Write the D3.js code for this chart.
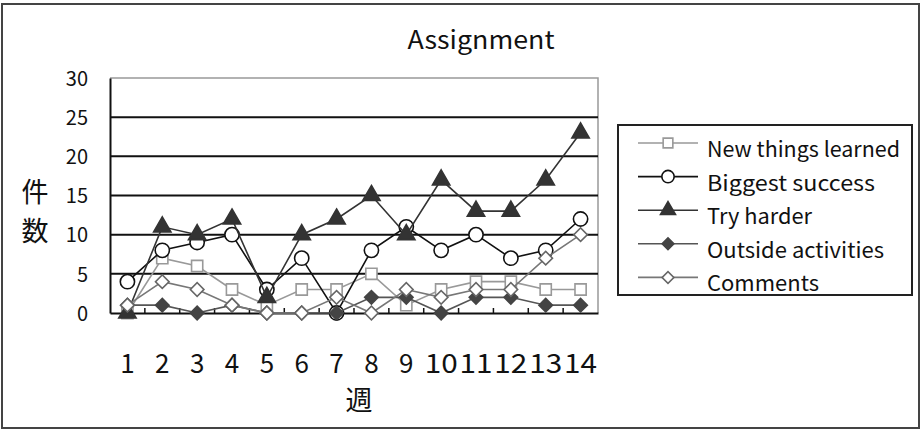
<html>
<meta charset="utf-8">
<script src="https://d3js.org/d3.v7.min.js"></script>
<style>
  body { margin: 0; background: #fff; }
  text { font-family: "Noto Sans CJK JP", "DejaVu Sans", sans-serif; fill: #111; }
</style>
<div id="chart"></div>
<script>
// data
let weeks = ["1","2","3","4","5","6","7","8","9","10","11","12","13","14"]
let newThings = [0, 7, 6, 3, 1, 3, 3, 5, 1, 3, 4, 4, 3, 3]
let biggest   = [4, 8, 9, 10, 3, 7, 0, 8, 11, 8, 10, 7, 8, 12]
let tryHarder = [0, 11, 10, 12, 2, 10, 12, 15, 10, 17, 13, 13, 17, 23]
let outside   = [1, 1, 0, 1, 0, 0, 0, 2, 2, 0, 2, 2, 1, 1]
let comments  = [1, 4, 3, 1, 0, 0, 2, 0, 3, 2, 3, 3, 7, 10]
let yTicks = [0, 5, 10, 15, 20, 25, 30]
let seriesNames = ["New things learned", "Biggest success", "Try harder", "Outside activities", "Comments"]

let width = 921, height = 431
let plot = {left: 110, right: 598, top: 78, bottom: 313}

let svg = d3.select("#chart").append("svg")
  .attr("width", width)
  .attr("height", height)

svg.append("rect")
  .attr("x", 2).attr("y", 4).attr("width", width - 4).attr("height", height - 7)
  .attr("fill", "#fff").attr("stroke", "#444").attr("stroke-width", 2)

let x = d3.scaleBand().domain(weeks).range([plot.left, plot.right])
let y = d3.scaleLinear().domain([0, 30]).range([plot.bottom, plot.top])

// plot frame (top/right light)
svg.append("path")
  .attr("d", `M${plot.left},${plot.top}H${plot.right}V${plot.bottom}`)
  .attr("fill", "none").attr("stroke", "#999").attr("stroke-width", 1.5)

// gridlines
svg.append("g").selectAll("line")
  .data(yTicks.filter(d => d > 0 && d < 30))
  .enter().append("line")
    .attr("x1", plot.left).attr("x2", plot.right)
    .attr("y1", d => y(d)).attr("y2", d => y(d))
    .attr("stroke", "#111").attr("stroke-width", 2)

// y axis
let yAxis = svg.append("g")
  .attr("transform", `translate(${plot.left},0)`)
  .call(d3.axisLeft(y).tickValues(yTicks).tickSize(0).tickPadding(22))
yAxis.select(".domain").attr("stroke", "#111").attr("stroke-width", 2)
yAxis.selectAll("text").style("font-size", "20px").attr("fill", "#111")
  .attr("dy", "0.36em")

// x axis
let xAxis = svg.append("g")
  .attr("transform", `translate(0,${plot.bottom})`)
  .call(d3.axisBottom(x).tickSize(0).tickPadding(42))
xAxis.select(".domain").attr("stroke", "#111").attr("stroke-width", 2)
xAxis.selectAll("text").style("font-size", "26px").attr("fill", "#111")
  .filter(d => d.length > 1)
  .attr("textLength", 33).attr("lengthAdjust", "spacingAndGlyphs")

// small inner ticks between categories
svg.append("g").selectAll("line")
  .data(weeks.slice(1))
  .enter().append("line")
    .attr("x1", d => x(d)).attr("x2", d => x(d))
    .attr("y1", plot.bottom).attr("y2", plot.bottom - 5)
    .attr("stroke", "#111").attr("stroke-width", 1.5)

svg.append("text")
  .attr("x", 481).attr("y", 49)
  .attr("text-anchor", "middle")
  .style("font-size", "25px")
  .attr("textLength", 147).attr("lengthAdjust", "spacingAndGlyphs")
  .text("Assignment")

svg.append("text").attr("x", 35).attr("y", 202).attr("text-anchor", "middle")
  .style("font-size", "27px").text("件")
svg.append("text").attr("x", 35).attr("y", 241).attr("text-anchor", "middle")
  .style("font-size", "27px").text("数")
svg.append("text").attr("x", 359).attr("y", 410).attr("text-anchor", "middle")
  .style("font-size", "27px").text("週")

let styles = [
  {data: newThings, line: "#999", marker: "square", fill: "#fff", stroke: "#999"},
  {data: biggest, line: "#111", marker: "circle", fill: "#fff", stroke: "#111"},
  {data: tryHarder, line: "#333", marker: "triangle", fill: "#333", stroke: "#333"},
  {data: outside, line: "#555", marker: "diamond", fill: "#444", stroke: "#444"},
  {data: comments, line: "#777", marker: "diamond", fill: "#fff", stroke: "#666"}
]
let symbolType = {square: d3.symbolSquare, circle: d3.symbolCircle, triangle: d3.symbolTriangle, diamond: d3.symbolSquare}
let symbolSize = {square: 125, circle: 160, triangle: 130, diamond: 92}
let symbolRot = {square: 0, circle: 0, triangle: 0, diamond: 45}

let line = d3.line()
  .x((d, i) => x(weeks[i]) + x.bandwidth() / 2)
  .y(d => y(d))

styles.forEach(s => {
  let g = svg.append("g")
  g.append("path")
    .attr("d", line(s.data))
    .attr("fill", "none").attr("stroke", s.line).attr("stroke-width", 1.6)
  g.selectAll("path.m")
    .data(s.data)
    .enter().append("path")
      .attr("class", "m")
      .attr("transform", (d, i) => `translate(${x(weeks[i]) + x.bandwidth() / 2},${y(d)}) rotate(${symbolRot[s.marker]})`)
      .attr("d", d3.symbol().type(symbolType[s.marker]).size(symbolSize[s.marker]))
      .attr("fill", s.fill).attr("stroke", s.stroke).attr("stroke-width", 1.6)
})

// legend
let legend = svg.append("g")
legend.append("rect")
  .attr("x", 618).attr("y", 125).attr("width", 294).attr("height", 170)
  .attr("fill", "#fff").attr("stroke", "#222").attr("stroke-width", 2)

let legendWidths = [193, 168, 105, 177, 112]
styles.forEach((s, i) => {
  let ly = 143 + i * 33.6
  legend.append("line")
    .attr("x1", 638).attr("x2", 698).attr("y1", ly).attr("y2", ly)
    .attr("stroke", s.line).attr("stroke-width", 1.6)
  legend.append("path")
    .attr("transform", `translate(668,${ly}) rotate(${symbolRot[s.marker]})`)
    .attr("d", d3.symbol().type(symbolType[s.marker]).size(symbolSize[s.marker] * 0.75))
    .attr("fill", s.fill).attr("stroke", s.stroke).attr("stroke-width", 1.6)
  legend.append("text")
    .attr("x", 707).attr("y", ly + 14)
    .style("font-size", "21px")
    .attr("textLength", legendWidths[i]).attr("lengthAdjust", "spacingAndGlyphs")
    .text(seriesNames[i])
})
</script>
</html>
